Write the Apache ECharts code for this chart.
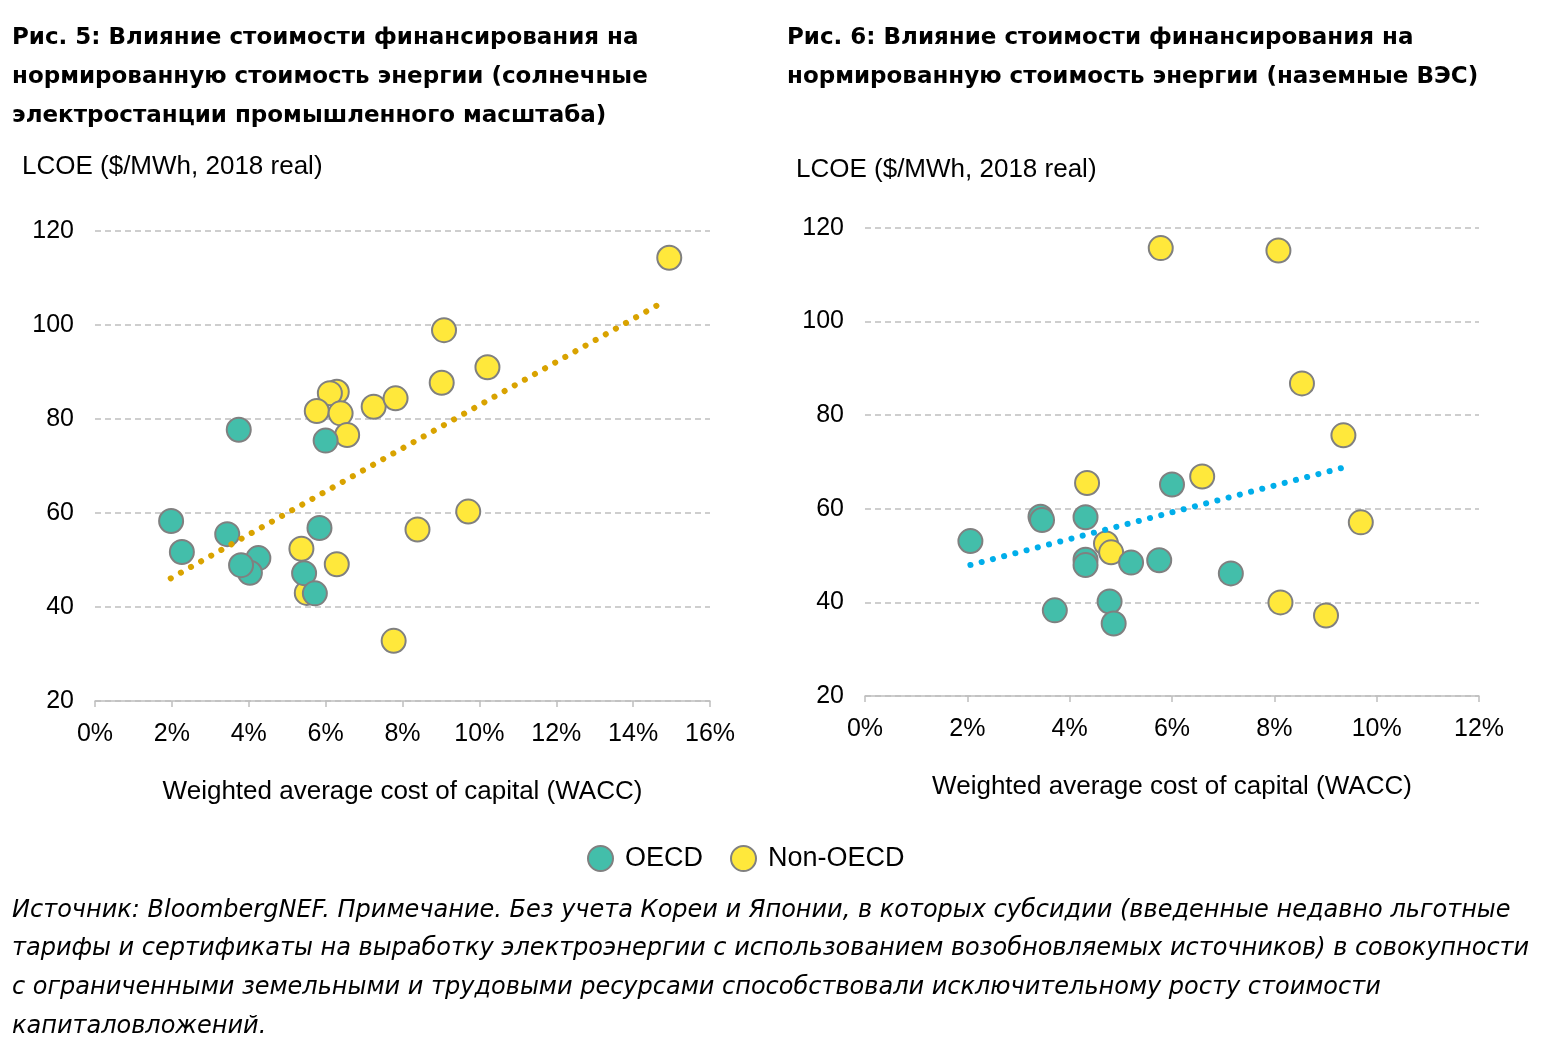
<!DOCTYPE html>
<html>
<head>
<meta charset="utf-8">
<script src="https://cdn.jsdelivr.net/npm/echarts@6/dist/echarts.min.js"></script>
<style>
html, body { margin:0; padding:0; background:#fff; }
#chart { width:1550px; height:1047px; }
</style>
</head>
<body>
<div id="chart"></div>
<script>
// Рис. 5 - солнечные электростанции (WACC %, LCOE)
var fig5OecdX = [1.98, 2.26, 3.44, 3.74, 4.25, 4.03, 3.80, 6.00, 5.84, 5.44, 5.72];
var fig5OecdY = [58.3, 51.7, 55.5, 77.7, 50.4, 47.3, 48.9, 75.4, 56.8, 47.2, 42.9];
var fig5NonX = [6.29, 6.11, 5.77, 6.39, 6.56, 7.25, 7.82, 5.37, 6.29, 5.51, 7.77, 14.94, 9.08, 10.21, 9.02, 9.71, 8.39];
var fig5NonY = [85.8, 85.5, 81.7, 81.2, 76.6, 82.6, 84.4, 52.4, 49.1, 43.0, 32.8, 114.3, 98.9, 91.0, 87.7, 60.3, 56.5];
var fig5TrendX = [1.97, 14.85];
var fig5TrendY = [46.1, 105.2];

// Рис. 6 - наземные ВЭС
var fig6OecdX = [2.06, 3.43, 3.46, 4.31, 4.31, 4.31, 5.20, 5.75, 6.00, 7.15, 3.71, 4.78, 4.86];
var fig6OecdY = [53.1, 58.3, 57.6, 58.2, 49.1, 48.0, 48.5, 49.0, 65.2, 46.2, 38.3, 40.2, 35.5];
var fig6NonX = [4.34, 4.71, 4.81, 6.59, 5.78, 8.08, 8.54, 9.35, 9.69, 8.12, 9.01];
var fig6NonY = [65.5, 52.6, 50.7, 66.9, 115.7, 115.2, 86.8, 75.7, 57.1, 40.0, 37.2];
var fig6TrendX = [2.06, 9.45];
var fig6TrendY = [48.0, 69.1];

var fig5XTicks = [0, 16, 2]; // min, max, interval
var fig6XTicks = [0, 12, 2];
var yTicks = [20, 120, 20];

var FONT = '"Liberation Sans", Arial, sans-serif';
var WIDE = '"DejaVu Sans", sans-serif'; // 제목/주석용 (폭이 넓은 글꼴)

function zip(xs, ys) { // x,y 배열을 점 배열로
	var res = [];
	for (var i = 0; i < xs.length; i++) {
		res.push([xs[i], ys[i]]);
	}
	return res;
}

function make_x_axis(idx, ticks) {
	return {
		type:'value', gridIndex:idx, min:ticks[0], max:ticks[1], interval:ticks[2],
		name:'Weighted average cost of capital (WACC)', nameLocation:'middle', nameGap:78,
		nameTextStyle:{ color:'#000', fontSize:26, fontFamily:FONT },
		axisLine:{ lineStyle:{ color:'#BFBFBF', width:1.5 } },
		axisTick:{ show:true, length:6, lineStyle:{ color:'#BFBFBF', width:1.5 } },
		axisLabel:{ color:'#000', fontSize:25, fontFamily:FONT, margin:21, formatter:'{value}%' },
		splitLine:{ show:false }
	};
}

function make_y_axis(idx) {
	return {
		type:'value', gridIndex:idx, min:yTicks[0], max:yTicks[1], interval:yTicks[2],
		axisLine:{ show:false }, axisTick:{ show:false },
		axisLabel:{ color:'#000', fontSize:25, fontFamily:FONT, margin:21 },
		splitLine:{ lineStyle:{ color:'#BFBFBF', width:1.5, type:[6,4] } }
	};
}

function scatter(name, idx, data, color) {
	return {
		name:name, type:'scatter', xAxisIndex:idx, yAxisIndex:idx,
		symbolSize:24, data:data,
		itemStyle:{ color:color, borderColor:'#808080', borderWidth:2, opacity:1 }
	};
}

function trend(idx, data, color) { // 점선 추세선
	return {
		type:'line', xAxisIndex:idx, yAxisIndex:idx, data:data, showSymbol:false, z:5,
		lineStyle:{ color:color, width:6, type:[0.1, 11.5], cap:'round' },
		silent:true
	};
}

var TEAL = '#43BEAA';
var YELLOW = '#FFE83B';

var myChart = echarts.init(document.getElementById('chart'));

var option = {
	backgroundColor:'#fff',
	animation:false,
	grid:[
		{ left:95, right:840, top:231, bottom:346 },
		{ left:865, right:71, top:228, bottom:351 }
	],
	xAxis:[ make_x_axis(0, fig5XTicks), make_x_axis(1, fig6XTicks) ],
	yAxis:[ make_y_axis(0), make_y_axis(1) ],
	legend:{
		data:['OECD', 'Non-OECD'], left:582, top:840, icon:'circle',
		itemWidth:25, itemHeight:25, itemGap:27,
		textStyle:{ color:'#000', fontSize:27, fontFamily:FONT, padding:[0,0,0,7] }
	},
	graphic:[
		{ type:'text', left:12, top:19, style:{ text:'Рис. 5: Влияние стоимости финансирования на\nнормированную стоимость энергии (солнечные\nэлектростанции промышленного масштаба)', font:'bold 23px ' + WIDE, fill:'#000', lineHeight:39 } },
		{ type:'text', left:787, top:19, style:{ text:'Рис. 6: Влияние стоимости финансирования на\nнормированную стоимость энергии (наземные ВЭС)', font:'bold 23px ' + WIDE, fill:'#000', lineHeight:39 } },
		{ type:'text', left:22, top:154, style:{ text:'LCOE ($/MWh, 2018 real)', font:'26px ' + FONT, fill:'#000' } },
		{ type:'text', left:796, top:157, style:{ text:'LCOE ($/MWh, 2018 real)', font:'26px ' + FONT, fill:'#000' } },
		{ type:'text', left:12, top:891, style:{ text:'Источник: BloombergNEF. Примечание. Без учета Кореи и Японии, в которых субсидии (введенные недавно льготные\nтарифы и сертификаты на выработку электроэнергии с использованием возобновляемых источников) в совокупности\nс ограниченными земельными и трудовыми ресурсами способствовали исключительному росту стоимости\nкапиталовложений.', font:'italic 24px ' + WIDE, fill:'#000', lineHeight:38.7 } }
	],
	series:[
		scatter('Non-OECD', 0, zip(fig5NonX, fig5NonY), YELLOW),
		scatter('OECD', 0, zip(fig5OecdX, fig5OecdY), TEAL),
		trend(0, zip(fig5TrendX, fig5TrendY), '#D9A300'),
		scatter('Non-OECD', 1, zip(fig6NonX, fig6NonY), YELLOW),
		scatter('OECD', 1, zip(fig6OecdX, fig6OecdY), TEAL),
		trend(1, zip(fig6TrendX, fig6TrendY), '#00AEEA')
	]
};

myChart.setOption(option);
</script>
</body>
</html>
